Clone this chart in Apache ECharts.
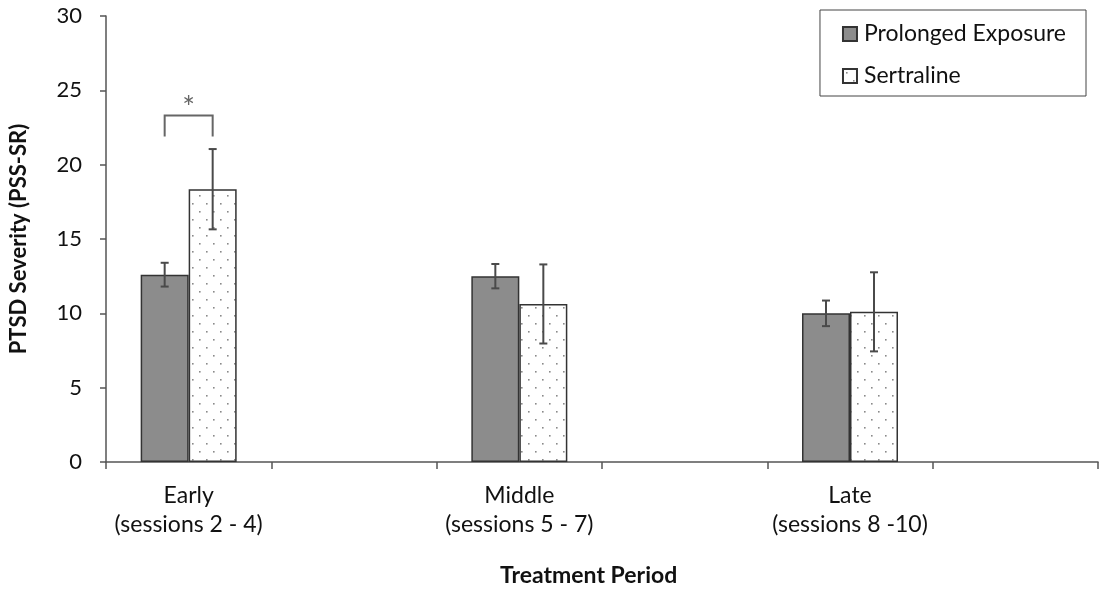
<!DOCTYPE html>
<html>
<head>
<meta charset="utf-8">
<script src="https://cdn.jsdelivr.net/npm/echarts@6/dist/echarts.min.js"></script>
<style>
  html, body { margin: 0; padding: 0; background: #fff; }
  #chart { width: 1101px; height: 593px; }
</style>
</head>
<body>
<div id="chart"></div>
<script>
// ---- data ----
const categories = ['Early\n(sessions 2 - 4)', '', 'Middle\n(sessions 5 - 7)', '', 'Late\n(sessions 8 -10)', ''];
const seriesNames = ['Prolonged Exposure', 'Sertraline'];
const peMean = [12.6, '-', 12.5, '-', 10.0, '-'];
const peErr = [0.8, null, 0.82, null, 0.86, null];
const seMean = [18.35, '-', 10.63, '-', 10.1, '-'];
const seErr = [2.7, null, 2.66, null, 2.66, null];
const yTicks = [0, 5, 10, 15, 20, 25, 30];
const sigBracket = { category: 0, legY: 21.9, topY: 23.3, label: '*' };

const FONT = 'Lato, "Open Sans", sans-serif';
const BAR_W = 48;

// dotted pattern
const pat = document.createElement('canvas');
pat.width = 14; pat.height = 16;
const pctx = pat.getContext('2d');
pctx.fillStyle = '#fff';
pctx.fillRect(0, 0, 14, 16);
pctx.fillStyle = '#8a8a8a';
pctx.fillRect(3, 3, 1.6, 1.6);
pctx.fillRect(10, 11, 1.6, 1.6);

function errData(means, errs) {
  const out = [];
  means.forEach((m, i) => { if (m !== '-' && errs[i] != null) out.push([i, m, errs[i]]); });
  return out;
}

function errRender(offsetSign) {
  return function (params, api) {
    const idx = api.value(0), m = api.value(1), e = api.value(2);
    const hi = api.coord([idx, m + e]);
    const lo = api.coord([idx, m - e]);
    const x = hi[0] + offsetSign * BAR_W / 2;
    const cap = 4;
    const style = { stroke: '#4a4a4a', lineWidth: 2 };
    return {
      type: 'group',
      children: [
        { type: 'line', shape: { x1: x, y1: hi[1], x2: x, y2: lo[1] }, style },
        { type: 'line', shape: { x1: x - cap, y1: hi[1], x2: x + cap, y2: hi[1] }, style },
        { type: 'line', shape: { x1: x - cap, y1: lo[1], x2: x + cap, y2: lo[1] }, style }
      ]
    };
  };
}

const chart = echarts.init(document.getElementById('chart'));
chart.setOption({
  animation: false,
  backgroundColor: '#fff',
  grid: { left: 102, right: 3, top: 16, bottom: 131 },
  legend: {
    data: seriesNames,
    orient: 'vertical',
    right: 15, top: 10,
    padding: [12, 20, 8, 22],
    itemGap: 18,
    itemWidth: 14, itemHeight: 14,
    icon: 'rect',
    borderColor: '#444', borderWidth: 1,
    textStyle: { fontFamily: FONT, fontSize: 23, color: '#111', lineHeight: 24, padding: [0, 0, 0, 2] }
  },
  xAxis: {
    type: 'category',
    data: categories,
    axisLine: { lineStyle: { color: '#555', width: 1.5 } },
    axisTick: { show: true, interval: 0, length: 7, lineStyle: { color: '#555', width: 1.5 } },
    axisLabel: { interval: 0, margin: 19, fontFamily: FONT, fontSize: 23, lineHeight: 29, color: '#111' }
  },
  yAxis: {
    type: 'value',
    min: yTicks[0], max: yTicks[yTicks.length - 1], interval: 5,
    name: 'PTSD Severity (PSS-SR)',
    nameLocation: 'middle',
    nameGap: 76,
    nameTextStyle: { fontFamily: FONT, fontSize: 22, fontWeight: 'bold', color: '#111' },
    axisLine: { show: true, lineStyle: { color: '#555', width: 1.5 } },
    axisTick: { show: true, length: 6, lineStyle: { color: '#555', width: 1.5 } },
    axisLabel: { margin: 24, fontFamily: FONT, fontSize: 22, color: '#111' },
    splitLine: { show: false }
  },
  series: [
    {
      name: seriesNames[0], type: 'bar', data: peMean,
      barWidth: BAR_W, barGap: '0%',
      itemStyle: { color: '#8c8c8c', borderColor: '#333', borderWidth: 1.5 }
    },
    {
      name: seriesNames[1], type: 'bar', data: seMean,
      barWidth: BAR_W, barGap: '0%',
      itemStyle: { color: { image: pat, repeat: 'repeat' }, borderColor: '#333', borderWidth: 1.5 }
    },
    {
      type: 'custom', data: errData(peMean, peErr), renderItem: errRender(-1), z: 5,
      encode: { x: 0, y: 1 }, tooltip: { show: false }
    },
    {
      type: 'custom', data: errData(seMean, seErr), renderItem: errRender(1), z: 5,
      encode: { x: 0, y: 1 }, tooltip: { show: false }
    },
    {
      type: 'custom', z: 5,
      data: [[sigBracket.category, sigBracket.legY, sigBracket.topY]],
      encode: { x: 0, y: 1 },
      renderItem: function (params, api) {
        const idx = api.value(0);
        const leg = api.coord([idx, api.value(1)]);
        const top = api.coord([idx, api.value(2)]);
        const xl = leg[0] - BAR_W / 2, xr = leg[0] + BAR_W / 2;
        const style = { stroke: '#666', lineWidth: 2, fill: null };
        return {
          type: 'group',
          children: [
            { type: 'polyline', shape: { points: [[xl, leg[1]], [xl, top[1]], [xr, top[1]], [xr, leg[1]]] }, style },
            { type: 'text', style: { x: leg[0], y: top[1] + 8, text: sigBracket.label, fill: '#666', font: '30px ' + FONT, align: 'center', verticalAlign: 'bottom' } }
          ]
        };
      }
    }
  ],
  graphic: [
    {
      type: 'text', left: 500, top: 564,
      style: { text: 'Treatment Period', font: 'bold 23px ' + FONT, fill: '#111' }
    }
  ]
});
</script>
</body>
</html>
